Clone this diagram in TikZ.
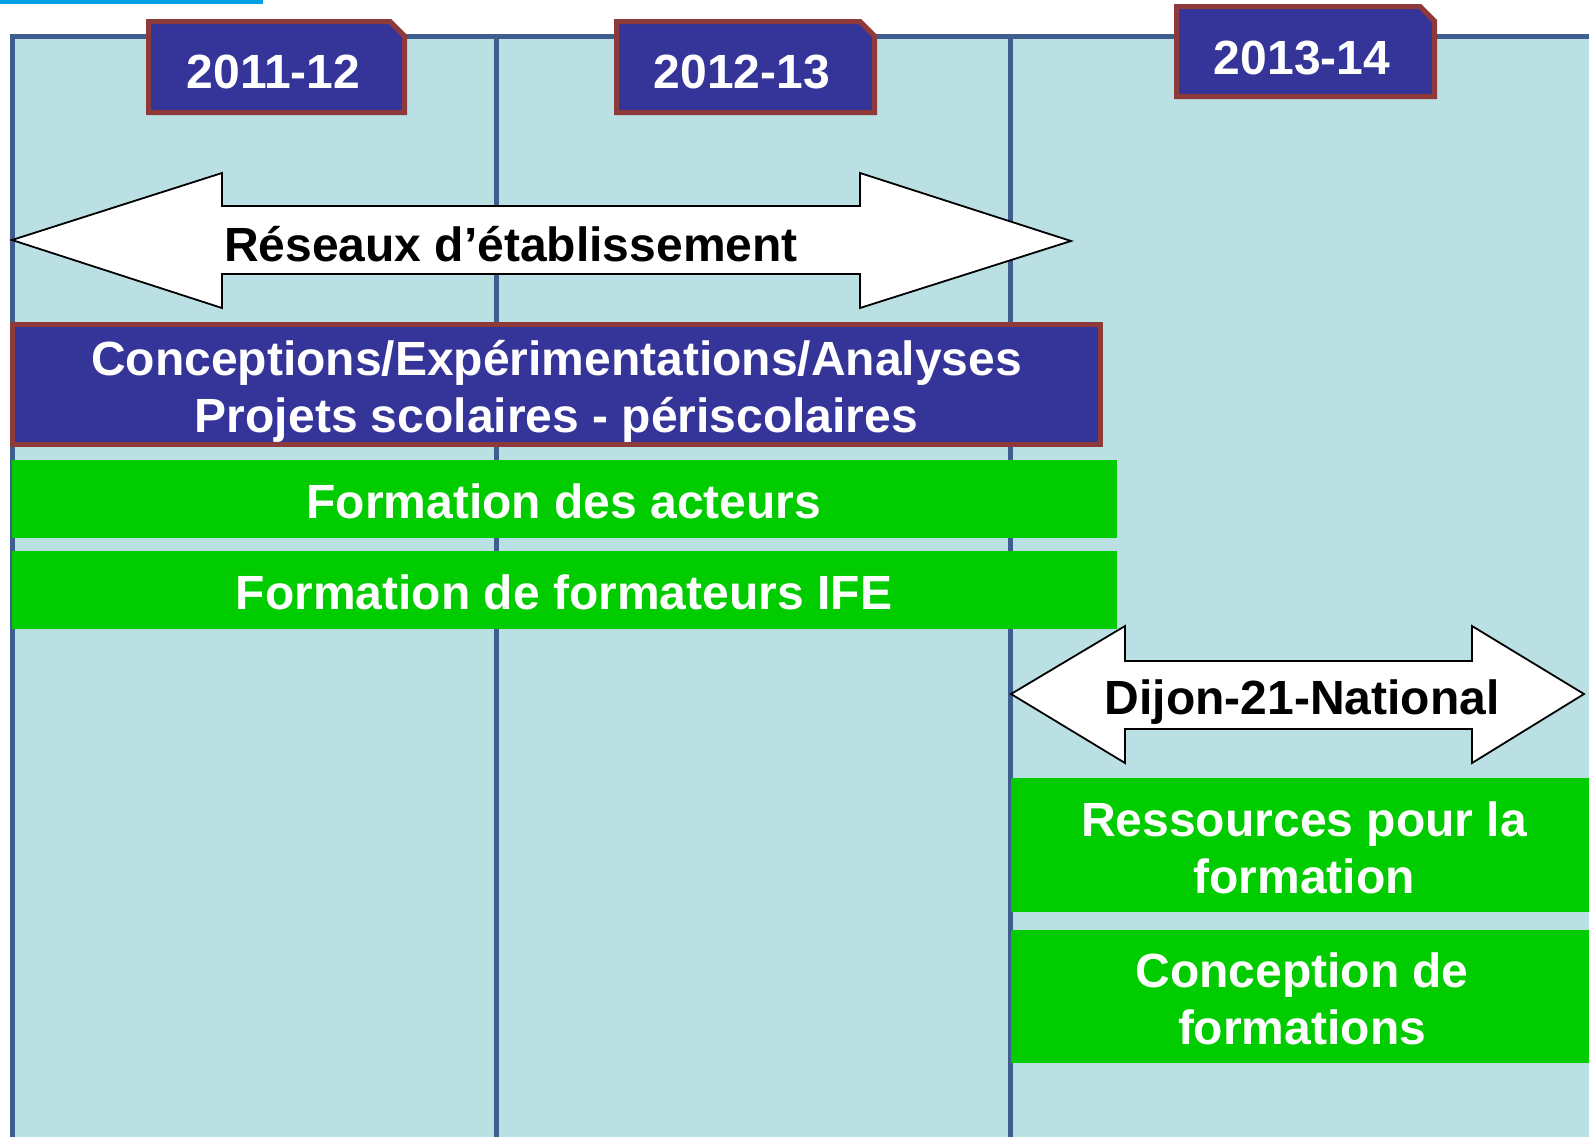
\documentclass[tikz,border=0pt]{standalone}
\usepackage{fontspec}
\setmainfont{Liberation Sans}
\definecolor{panel}{HTML}{BBE0E3}
\definecolor{gridc}{HTML}{3D5E8E}
\definecolor{tabblue}{HTML}{353599}
\definecolor{tabbrown}{HTML}{8E3A3A}
\definecolor{barg}{HTML}{00CC00}
\definecolor{topcyan}{HTML}{00A0E3}
\begin{document}
\begin{tikzpicture}[x=1pt,y=-1pt,
  lbl/.style={font=\fontsize{48}{57}\selectfont\bfseries, inner sep=0pt, outer sep=0pt},
  whitelbl/.style={lbl, text=white},
  blacklbl/.style={lbl, text=black},
  gbar/.style={fill=barg, draw=none, inner sep=0pt, outer sep=0pt},
  bluebox/.style={fill=tabblue, draw=tabbrown, line width=5pt, inner sep=0pt, outer sep=0pt},
  tabpath/.style={fill=tabblue, draw=tabbrown, line width=5pt, line join=miter},
  arrowshape/.style={fill=white, draw=black, line width=1.8pt, line join=miter},
  gridline/.style={draw=gridc, line width=5pt}
]
\useasboundingbox (0,0) rectangle (1589,1136);
% top cyan strip
\fill[topcyan] (0,0) rectangle (263,3.5);
% panel
\filldraw[fill=panel, draw=gridc, line width=5pt] (12.5,36) rectangle (1610,1150);
\draw[gridline] (496,36) -- (496,1150);
\draw[gridline] (1010.5,36) -- (1010.5,1150);
% year tabs
\filldraw[tabpath] (148.5,21.5) -- (390,21.5) -- (404.5,36) -- (404.5,112.5) -- (148.5,112.5) -- cycle;
\filldraw[tabpath] (616.5,21.5) -- (860,21.5) -- (874.5,36) -- (874.5,112.5) -- (616.5,112.5) -- cycle;
\filldraw[tabpath] (1176.5,6.5) -- (1420,6.5) -- (1434.5,21) -- (1434.5,96.5) -- (1176.5,96.5) -- cycle;
\node[whitelbl, anchor=base] (y1) at (273.6,88) {2011-12};
\node[whitelbl, anchor=base] (y2) at (742,88) {2012-13};
\node[whitelbl, anchor=base] (y3) at (1302,74) {2013-14};
% Reseaux arrow
\filldraw[arrowshape] (12,240) -- (222,173) -- (222,206) -- (860,206) -- (860,173) -- (1071,241) -- (860,308) -- (860,274) -- (222,274) -- (222,308) -- cycle;
\node[blacklbl, anchor=base] (reseaux) at (511,261) {Réseaux d’établissement};
% Conceptions box
\node[bluebox, minimum width=1088pt, minimum height=120pt] (cbox) at (556.5,384.5) {};
\node[whitelbl, align=center] (ctxt) at (556.5,391) {Conceptions/Expérimentations/Analyses\\Projets scolaires - périscolaires};
% green bars
\node[gbar, minimum width=1105pt, minimum height=78pt] (fabar) at (564.5,499) {};
\node[whitelbl, anchor=base] (fatxt) at (564,518) {Formation des acteurs};
\node[gbar, minimum width=1105pt, minimum height=78pt] (ifebar) at (564.5,590) {};
\node[whitelbl, anchor=base] (ifetxt) at (564,609) {Formation de formateurs IFE};
% Dijon arrow
\filldraw[arrowshape] (1011,694) -- (1125,626) -- (1125,661) -- (1472,661) -- (1472,626) -- (1584,694) -- (1472,763) -- (1472,729) -- (1125,729) -- (1125,763) -- cycle;
\node[blacklbl, anchor=base] (dijon) at (1302,714) {Dijon-21-National};
% right green boxes
\node[gbar, minimum width=620pt, minimum height=134pt, anchor=west] (resbar) at (1011,845) {};
\node[whitelbl, align=center] (restxt) at (1304,848) {Ressources pour la\\formation};
\node[gbar, minimum width=620pt, minimum height=133pt, anchor=west] (conbar) at (1011,996.5) {};
\node[whitelbl, align=center] (contxt) at (1302,999) {Conception de\\formations};
\end{tikzpicture}
\end{document}
